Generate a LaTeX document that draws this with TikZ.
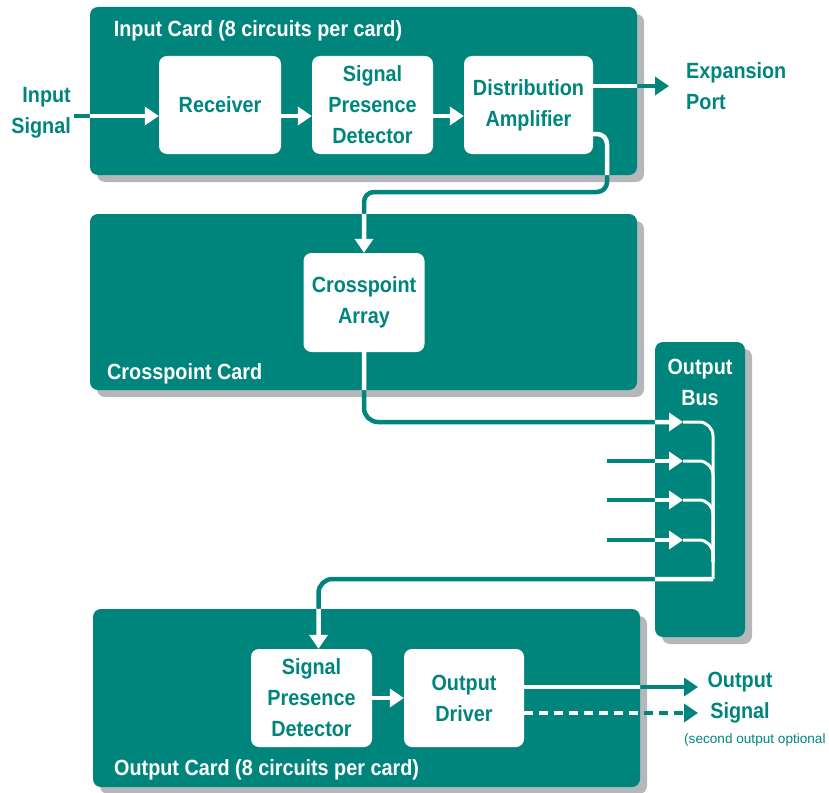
\documentclass[tikz,border=0pt]{standalone}
\usepackage{fontspec}
\setmainfont{Liberation Sans}[FakeStretch=0.9]
\newfontfamily\smallfamily{Liberation Sans}
\usetikzlibrary{arrows.meta,shadows,calc}
\definecolor{tealc}{RGB}{0,133,125}
\definecolor{shadowc}{RGB}{180,184,186}
\newcommand\bigfnt{\fontsize{22}{31}\selectfont\bfseries}
\newcommand\smallfnt{\smallfamily\fontsize{13.6}{16}\selectfont}
\newcommand\allconns{%
  \draw[ln, lw, tipa] (inS) -- (recv.west |- inS);
  \draw[ln, lw, tipa] ($(recv.east)+(0,11)$) -- ($(spd.west)+(0,11)$);
  \draw[ln, lw, tipa] ($(spd.east)+(0,11)$) -- ($(da.west)+(0,11)$);
  \draw[ln, lw, tipa] ($(da.east)+(0,-19)$) -- (expP);
  \draw[ln, lw, rounded corners=10pt, tipa] ($(da.east)+(0,29)$) -| (k1) -| (xa.north);
  \draw[ln, lw, rounded corners=14pt, tipa] (xa.south) |- (b1);
  \foreach \i in {2,3,4} {\draw[ln, lw, tipa] (s\i) -- (b\i);}
  \foreach \i in {2,3,4} {\draw[ln, line width=3pt, rounded corners=14pt] (b\i) -| (bw);}
  \draw[ln, line width=3pt, rounded corners=14pt] (b1) -| (bv);
  \draw[ln, lw, rounded corners=14pt, tipa] (bv) -| ($(osp.north)+(7,0)$);
  \draw[ln, lw, tipa] (osp.east) -- (od.west);
  \draw[ln, lw, tipa] ($(od.east)+(0,-11)$) -- (o1);
  \draw[ln, lw, dash pattern=on 9pt off 6pt, tipa] ($(od.east)+(0,15)$) -- (o2);
}
\begin{document}
\begin{tikzpicture}[x=1pt,y=-1pt,
  card/.style={fill=tealc, rounded corners=8pt, inner sep=0pt,
    drop shadow={shadow xshift=7pt,shadow yshift=-7pt,fill=shadowc,opacity=1}},
  block/.style={fill=white, rounded corners=8pt, inner sep=0pt, text=tealc,
    align=center, font=\bigfnt, minimum height=98pt},
  cardtitle/.style={text=white, inner sep=0pt, font=\bigfnt},
  outtext/.style={text=tealc, inner sep=0pt, font=\bigfnt},
  lw/.style={line width=4.5pt},
  tipa/.style={-{Triangle[length=14pt,width=18pt]}},
  ln/.style={draw=tealc}]
\useasboundingbox (0,0) rectangle (829,792);
% cards
\node[card, minimum width=547pt, minimum height=168pt] (incard) at (363.5,91) {};
\node[card, minimum width=547pt, minimum height=176pt] (xcard) at (363.5,302) {};
\node[card, minimum width=90pt, minimum height=295pt] (bus) at (700,489.5) {};
\node[card, minimum width=547pt, minimum height=178pt] (outcard) at (366.5,698) {};
% card titles
\node[cardtitle] (intitle) at (258,31) {Input Card (8 circuits per card)};
\node[cardtitle, anchor=west] (xtitle) at (107,374) {Crosspoint Card};
\node[cardtitle, anchor=west] (outtitle) at (114,770) {Output Card (8 circuits per card)};
\node[cardtitle, align=center] (bustitle) at (700,382) {Output\\Bus};
% blocks
\node[block, minimum width=122pt] (recv) at (220,105) {Receiver};
\node[block, minimum width=121pt] (spd) at (372.5,105) {Signal\\Presence\\Detector};
\node[block, minimum width=129pt] (da) at (528.5,105) {Distribution\\Amplifier};
\node[block, minimum width=121pt, minimum height=99pt] (xa) at (364,302.5) {Crosspoint\\Array};
\node[block, minimum width=121pt] (osp) at (311.5,698) {Signal\\Presence\\Detector};
\node[block, minimum width=120pt] (od) at (464,698) {Output\\Driver};
% outside texts
\node[outtext, align=right, anchor=east] (intext) at (71,113) {Input\\Signal};
\node[outtext, align=left, anchor=west] (exptext) at (686,86) {Expansion\\Port};
\node[outtext, align=center] (outsig) at (740,698) {Output\\Signal};
\node[text=tealc, inner sep=0pt, anchor=west, font=\smallfnt] (opt) at (684,740) {(second output optional};
% connector points
\coordinate (inS) at (74,116);
\coordinate (expP) at (669,86);
\coordinate (k1) at (607,192);
\coordinate (b1) at (683,422);
\coordinate (b2) at (683,461);
\coordinate (b3) at (683,500);
\coordinate (b4) at (683,540);
\coordinate (s2) at (607,461);
\coordinate (s3) at (607,500);
\coordinate (s4) at (607,540);
\coordinate (bv) at (713,579);
\coordinate (bw) at (713,562);
\coordinate (o1) at (698,687);
\coordinate (o2) at (698,713);
% connectors: teal everywhere, white inside cards
\allconns
\begin{scope}
  \clip (incard.south west) rectangle (incard.north east)
        (xcard.south west) rectangle (xcard.north east)
        (bus.south west) rectangle (bus.north east)
        (outcard.south west) rectangle (outcard.north east);
  \tikzset{ln/.style={draw=white}}
  \allconns
\end{scope}
\end{tikzpicture}
\end{document}
